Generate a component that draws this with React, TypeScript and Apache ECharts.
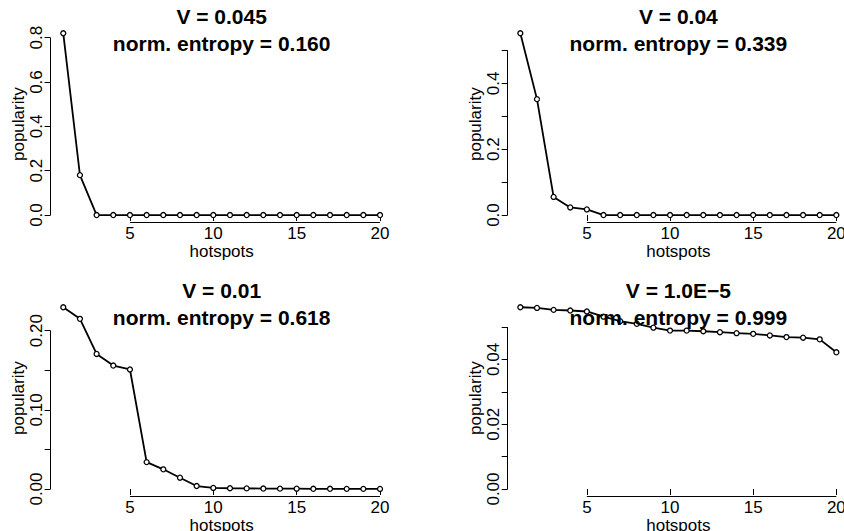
import React, { useEffect, useRef } from "react";
import * as echarts from "echarts";

// ---------- data ----------
const hotspots = [1, 2, 3, 4, 5, 6, 7, 8, 9, 10, 11, 12, 13, 14, 15, 16, 17, 18, 19, 20];

const popV0045 = [0.82, 0.18, 0, 0, 0, 0, 0, 0, 0, 0, 0, 0, 0, 0, 0, 0, 0, 0, 0, 0];
const popV004 = [0.552, 0.352, 0.055, 0.023, 0.017, 0, 0, 0, 0, 0, 0, 0, 0, 0, 0, 0, 0, 0, 0, 0];
const popV001 = [
  0.2296, 0.215, 0.1706, 0.156, 0.151, 0.034, 0.0249, 0.0143, 0.0038, 0.0014,
  0.001, 0.0008, 0.0006, 0.0005, 0.0004, 0.0003, 0.0003, 0.0002, 0.0002, 0.0001,
];
const popV1e5 = [
  0.0561, 0.0559, 0.0553, 0.0551, 0.0548, 0.0532, 0.0518, 0.051, 0.0498, 0.0489,
  0.0489, 0.0487, 0.0484, 0.0481, 0.0479, 0.0474, 0.0469, 0.0467, 0.0462, 0.0422,
];

const vTitles = ["V = 0.045", "V = 0.04", "V = 0.01", "V = 1.0E\u22125"];
const entropies = ["0.160", "0.339", "0.618", "0.999"];

const xTicks = [5, 10, 15, 20];

const yTicks1 = [0, 0.2, 0.4, 0.6, 0.8];
const yLabels1 = ["0.0", "0.2", "0.4", "0.6", "0.8"];
const yTicks2 = [0, 0.1, 0.2, 0.3, 0.4, 0.5];
const yLabels2 = ["0.0", "", "0.2", "", "0.4", ""];
const yTicks3 = [0, 0.05, 0.1, 0.15, 0.2];
const yLabels3 = ["0.00", "", "0.10", "", "0.20"];
const yTicks4 = [0, 0.01, 0.02, 0.03, 0.04, 0.05];
const yLabels4 = ["0.00", "", "0.02", "", "0.04", ""];

const xName = "hotspots";
const yName = "popularity";

// ---------- layout ----------
const FONT = "'Liberation Sans', Arial, Helvetica, sans-serif";
const PLOT_H = 196.3;

const panels = [
  { values: popV0045, title: vTitles[0], ent: entropies[0], yTicks: yTicks1, yLabels: yLabels1, left: 50.6, top: 26, width: 342.1 },
  { values: popV004, title: vTitles[1], ent: entropies[1], yTicks: yTicks2, yLabels: yLabels2, left: 507.7, top: 26, width: 341.3 },
  { values: popV001, title: vTitles[2], ent: entropies[2], yTicks: yTicks3, yLabels: yLabels3, left: 50.6, top: 300, width: 342.1 },
  { values: popV1e5, title: vTitles[3], ent: entropies[3], yTicks: yTicks4, yLabels: yLabels4, left: 507.7, top: 300, width: 341.3 },
];

function buildOption() {
  const grids: any[] = [];
  const xAxes: any[] = [];
  const yAxes: any[] = [];
  const series: any[] = [];
  const titles: any[] = [];

  const xFirst = hotspots[0];
  const xLast = hotspots[hotspots.length - 1];
  const xMin = xFirst - 0.04 * (xLast - xFirst);
  const xMax = xLast + 0.04 * (xLast - xFirst);

  panels.forEach((p, i) => {
    const vmax = Math.max(...p.values);
    const yMin = -0.04 * vmax;
    const yMax = vmax * 1.04;
    const labelMap = new Map<number, string>();
    p.yTicks.forEach((t, k) => labelMap.set(t, p.yLabels[k]));
    const labelVals = p.yTicks.filter((t, k) => p.yLabels[k] !== "");

    grids.push({
      left: p.left,
      top: p.top,
      width: p.width,
      height: PLOT_H,
      containLabel: false,
      outerBoundsMode: "none",
    });

    xAxes.push({
      type: "value",
      gridIndex: i,
      min: xMin,
      max: xMax,
      axisLine: { show: false },
      axisTick: { show: true, customValues: xTicks, length: 6, lineStyle: { color: "#000", width: 1 } },
      axisLabel: { show: true, customValues: xTicks, color: "#000", fontSize: 17, fontFamily: FONT, margin: 3 },
      splitLine: { show: false },
      name: xName,
      nameLocation: "middle",
      nameGap: 17,
      nameTextStyle: { color: "#000", fontSize: 17, fontFamily: FONT },
    });

    yAxes.push({
      type: "value",
      gridIndex: i,
      min: yMin,
      max: yMax,
      axisLine: { show: false },
      axisTick: { show: true, customValues: p.yTicks, length: 6, lineStyle: { color: "#000", width: 1 } },
      axisLabel: {
        show: true,
        customValues: labelVals,
        rotate: 90,
        color: "#000",
        fontSize: 17,
        fontFamily: FONT,
        margin: 6,
        formatter: (v: number) => {
          let best = "";
          let bd = Infinity;
          labelMap.forEach((s, t) => {
            const d = Math.abs(t - v);
            if (d < bd) { bd = d; best = s; }
          });
          return best;
        },
      },
      splitLine: { show: false },
      name: yName,
      nameLocation: "middle",
      nameRotate: 90,
      nameGap: 21.5,
      nameTextStyle: { color: "#000", fontSize: 17, fontFamily: FONT },
    });

    series.push({
      type: "line",
      xAxisIndex: i,
      yAxisIndex: i,
      data: hotspots.map((h, k) => [h, p.values[k]]),
      clip: false,
      symbol: "circle",
      symbolSize: 5,
      showSymbol: true,
      itemStyle: { color: "#fff", borderColor: "#000", borderWidth: 1.3 },
      lineStyle: { color: "#000", width: 1.8 },
      emphasis: { disabled: true },
      silent: true,
      markLine: {
        silent: true,
        symbol: ["none", "none"],
        label: { show: false },
        emphasis: { disabled: true },
        lineStyle: { color: "#000", width: 1, type: "solid" },
        data: [
          [{ coord: [xTicks[0], yMin] }, { coord: [xTicks[xTicks.length - 1], yMin] }],
          [{ coord: [xMin, p.yTicks[0]] }, { coord: [xMin, p.yTicks[p.yTicks.length - 1]] }],
        ],
      },
    });

    titles.push({
      text: p.title + "\n" + "norm. entropy = " + p.ent,
      left: p.left + p.width / 2,
      top: p.top - 23.5,
      textAlign: "center",
      padding: 0,
      textStyle: { color: "#000", fontSize: 21, fontWeight: "bold", lineHeight: 27, fontFamily: FONT },
    });
  });

  return {
    animation: false,
    backgroundColor: "#fff",
    title: titles,
    grid: grids,
    xAxis: xAxes,
    yAxis: yAxes,
    series,
  };
}

export default function App() {
  const ref = useRef<HTMLDivElement>(null);
  useEffect(() => {
    if (!ref.current) return;
    const chart = echarts.init(ref.current, undefined, { renderer: "svg" });
    chart.setOption(buildOption() as any);
    return () => chart.dispose();
  }, []);
  return (
    <div
      ref={ref}
      style={{ position: "absolute", left: 0, top: 0, width: 844, height: 531, background: "#fff" }}
    />
  );
}
